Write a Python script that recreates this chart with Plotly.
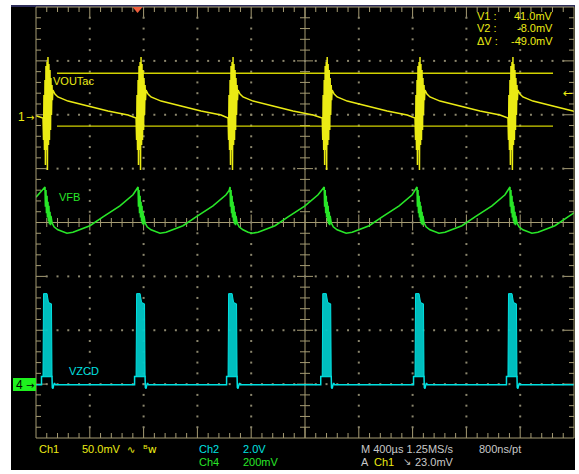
import plotly.graph_objects as go

# ---------------- data ----------------
TIME_PER_DIV_US = 400.0          # horizontal scale
CH1_MV_PER_DIV = 50.0            # VOUTac
CH2_V_PER_DIV = 2.0              # VZCD
CH4_MV_PER_DIV = 200.0           # VFB
CH1_GND_DIV = 1.95               # ground-marker positions (divisions from centre)
CH2_GND_DIV = -3.01
CH4_GND_DIV = -3.03

# switching events (centre of each VOUT ringing burst), µs from left edge
event_us = [89, 781, 1465, 2165, 2855, 3546]

# Ch1 VOUTac, one cycle relative to an event (µs, mV)
ch1_dt_us = [-37, -33, -30, -26, -22, -19, -15, -11, -7, -4, 0, 4, 7, 11, 15,
             19, 22, 26, 30, 33, 37, 52, 74, 149, 297, 446, 595, 640]
ch1_mv = [-0.6, -21.0, 20.8, -30.3, 34.7, -44.2, 47.7, -30.3, 51.4, -48.8, 56.0,
          -25.6, 49.6, -21.0, 44.0, -11.7, 36.6, 2.2, 30.1, 16.1, 25.4, 21.7,
          19.0, 15.2, 10.6, 5.9, 2.2, 0.0]
ch1_start_mv = 1.5

# Ch4 VFB, one cycle relative to an event (µs, mV)
ch4_dt_us = [-22, -19, -15, -11, -7, -4, 0, 4, 7, 11, 15, 19, 22, 30, 45, 74,
             112, 141, 186, 238, 312, 409, 535, 632, 655]
ch4_mv = [738, 665, 727, 640, 705, 625, 683, 610, 668, 600, 646, 596, 631, 605,
          590, 579, 570, 566, 570, 579, 594, 627, 668, 709, 725]
ch4_start_mv = 700

# Ch2 VZCD baseline and pulse band, relative to an event (µs, V)
ch2_line_dt_us = [-55, -48, -48, -37, 30, 32, 37, 41, 48, 55]
ch2_line_v = [0, 0, 0.30, 0.30, 0.30, -0.11, -0.15, -0.05, 0.06, 0]
ch2_band_dt_us = [-37, -37, -33, -7, 0, 4, 26, 30]
ch2_band_v = [0.30, 3.30, 3.38, 3.38, 3.20, 3.05, 3.00, 0.30]

# cursors / trigger
cursor_v1_mv = 41.0
cursor_v2_mv = -8.0
cursor_span_us = [156, 3844]
trigger_level_mv = 23.0
trigger_pos_us = 755
sample_rate = "1.25MS/s"
record_res = "800ns/pt"

# ---------------- geometry ----------------
W, H = 579, 474
L, R, T, B = 36, 5, 7, 36
PW, PH = W - L - R, H - T - B
XMAX = 10 * TIME_PER_DIV_US
US_PER_PX = XMAX / PW
DIV_PER_PX = 8.0 / PH


def px(x):
    return (x - L) / PW


def py(y):
    return (H - B - y) / PH


GRAT = "rgb(165,155,115)"
DOT = "rgb(140,135,110)"
YEL = "rgb(235,235,20)"
YEL_C = "rgb(210,210,0)"
GRN = "rgb(40,230,40)"
CYN = "rgb(0,225,225)"
CYN_F = "rgba(0,200,200,0.95)"
GRAY = "rgb(200,200,200)"

fig = go.Figure()

# ---------------- graticule ----------------
tx, ty = [], []
minor_x = 5 * US_PER_PX
major_x = 11 * US_PER_PX
minor_y = 5 * DIV_PER_PX
major_y = 11 * DIV_PER_PX
step_x = TIME_PER_DIV_US / 5
for i in range(1, 50):
    x = i * step_x
    lnx = major_y if i % 5 == 0 else minor_y
    tx += [x, x, None, x, x, None]
    ty += [4, 4 - lnx, None, -4, -4 + lnx, None]
    c = (8 if i % 5 == 0 else 4.5) * DIV_PER_PX
    tx += [x, x, None]
    ty += [-c, c, None]
for j in range(1, 40):
    y = -4 + j * 0.2
    ln = major_x if j % 5 == 0 else minor_x
    tx += [0, ln, None, XMAX, XMAX - ln, None]
    ty += [y, y, None, y, y, None]
    c = (8 if j % 5 == 0 else 5) * US_PER_PX
    tx += [XMAX / 2 - c, XMAX / 2 + c, None]
    ty += [y, y, None]
tx += [XMAX / 2, XMAX / 2, None, 0, XMAX, None]
ty += [-4, 4, None, 0, 0, None]
fig.add_trace(go.Scatter(x=tx, y=ty, mode="lines", line=dict(color=GRAT, width=1),
                         hoverinfo="skip", showlegend=False))

dx, dy = [], []
for k in range(1, 10):
    if k == 5:
        continue
    for j in range(1, 40):
        dx.append(k * TIME_PER_DIV_US)
        dy.append(-4 + j * 0.2)
for k in range(-3, 4):
    if k == 0:
        continue
    for i in range(1, 50):
        dx.append(i * step_x)
        dy.append(k)
fig.add_trace(go.Scatter(x=dx, y=dy, mode="markers",
                         marker=dict(color=DOT, size=2, symbol="square", line=dict(width=0)),
                         hoverinfo="skip", showlegend=False))

# ---------------- cursors ----------------
for v in (cursor_v1_mv, cursor_v2_mv):
    yv = v / CH1_MV_PER_DIV + CH1_GND_DIV
    fig.add_trace(go.Scatter(x=cursor_span_us, y=[yv, yv], mode="lines",
                             line=dict(color=YEL_C, width=1.3), hoverinfo="skip",
                             showlegend=False))

# ---------------- Ch2 VZCD ----------------
lx, ly = [0], [CH2_GND_DIV]
bx, by = [], []
for s in event_us:
    lx += [s + d for d in ch2_line_dt_us]
    ly += [v / CH2_V_PER_DIV + CH2_GND_DIV for v in ch2_line_v]
    bx += [s + d for d in ch2_band_dt_us] + [None]
    by += [v / CH2_V_PER_DIV + CH2_GND_DIV for v in ch2_band_v] + [None]
lx.append(XMAX)
ly.append(CH2_GND_DIV)
fig.add_trace(go.Scatter(x=lx, y=ly, mode="lines", line=dict(color=CYN, width=1.5),
                         hoverinfo="skip", showlegend=False))
fig.add_trace(go.Scatter(x=bx, y=by, mode="lines", fill="toself", fillcolor=CYN_F,
                         line=dict(color=CYN, width=1), hoverinfo="skip", showlegend=False))

# ---------------- Ch4 VFB ----------------
gx, gy = [0], [ch4_start_mv / CH4_MV_PER_DIV + CH4_GND_DIV]
for s in event_us:
    gx += [s + d for d in ch4_dt_us]
    gy += [v / CH4_MV_PER_DIV + CH4_GND_DIV for v in ch4_mv]
fig.add_trace(go.Scatter(x=gx, y=gy, mode="lines", line=dict(color=GRN, width=1.6),
                         hoverinfo="skip", showlegend=False))

# ---------------- Ch1 VOUTac ----------------
yx, yy = [0], [ch1_start_mv / CH1_MV_PER_DIV + CH1_GND_DIV]
for s in event_us:
    yx += [s + d for d in ch1_dt_us]
    yy += [v / CH1_MV_PER_DIV + CH1_GND_DIV for v in ch1_mv]
fig.add_trace(go.Scatter(x=yx, y=yy, mode="lines", line=dict(color=YEL, width=1.5),
                         hoverinfo="skip", showlegend=False))

# ---------------- shapes ----------------
shapes = [
    dict(type="rect", xref="paper", yref="paper", x0=px(11), x1=px(575), y0=py(5),
         y1=py(470), fillcolor="black", line=dict(width=0), layer="below"),
    dict(type="rect", xref="paper", yref="paper", x0=px(11), x1=px(575), y0=py(7),
         y1=py(5), fillcolor="rgb(45,45,90)", line=dict(width=0)),
    dict(type="rect", xref="paper", yref="paper", x0=0, x1=1, y0=0, y1=1,
         line=dict(color=GRAT, width=1)),
    dict(type="rect", xref="paper", yref="paper", x0=px(13), x1=px(36), y0=py(391),
         y1=py(378), fillcolor="rgb(30,240,30)", line=dict(width=0)),
]
tp = L + trigger_pos_us / US_PER_PX
shapes.append(dict(type="path", xref="paper", yref="paper",
                   path=f"M {px(tp-5)},{py(7)} L {px(tp+5)},{py(7)} L {px(tp)},{py(13)} Z",
                   fillcolor="rgb(240,95,60)", line=dict(width=0)))

# ---------------- texts ----------------
FONT = "Liberation Sans, Arial, sans-serif"
SYM = "DejaVu Sans"
ann = []


def txt(x, y, s, color, size=11, anchor="left", family=FONT):
    ann.append(dict(x=px(x), y=py(y), xref="paper", yref="paper", text=s,
                    showarrow=False, xanchor=anchor, yanchor="middle",
                    font=dict(family=family, size=size, color=color)))


txt(51, 81, "VOUTac", YEL, 11)
txt(57, 197, "VFB", GRN, 11)
txt(67, 371, "VZCD", CYN, 11)

ch1_gnd_px = H - B - (CH1_GND_DIV + 4) / DIV_PER_PX
txt(27, ch1_gnd_px, "1", YEL, 12, "right")
txt(36, ch1_gnd_px, "→", YEL, 10, "right", SYM)
txt(25, 385, "4", "black", 12, "right")
txt(36, 385, "→", "black", 10, "right", SYM)
trig_px = H - B - (trigger_level_mv / CH1_MV_PER_DIV + CH1_GND_DIV + 4) / DIV_PER_PX
txt(575, trig_px, "←", YEL, 12, "right", SYM)

rows = [("V1 :", cursor_v1_mv), ("V2 :", cursor_v2_mv),
        ("ΔV :", cursor_v2_mv - cursor_v1_mv)]
for i, (lab, v) in enumerate(rows):
    yy_ = 16 + i * 12.5
    txt(475, yy_, lab, YEL, 11)
    txt(555, yy_, f"{v:.1f}mV", YEL, 11, "right")

txt(37, 449, "Ch1", YEL, 11)
txt(80, 449, f"{CH1_MV_PER_DIV:.1f}mV", YEL, 11)
txt(125, 449, "∿", YEL, 10, "left", SYM)
txt(141, 449, "ᴮw", YEL, 11, "left", SYM)
txt(197, 449, "Ch2", CYN, 11)
txt(241, 449, f"{CH2_V_PER_DIV:.1f}V", CYN, 11)
txt(197, 462, "Ch4", GRN, 11)
txt(241, 462, f"{CH4_MV_PER_DIV:.0f}mV", GRN, 11)
txt(359, 449, f"M {TIME_PER_DIV_US:.0f}µs {sample_rate}", GRAY, 11)
txt(477, 449, record_res, GRAY, 11)
txt(359, 462, "A", GRAY, 11)
txt(372, 462, "Ch1", YEL, 11)
txt(401, 462, "↘", GRAY, 10, "left", SYM)
txt(413, 462, f"{trigger_level_mv:.1f}mV", GRAY, 11)

fig.update_layout(
    width=W, height=H,
    margin=dict(l=L, r=R, t=T, b=B, pad=0),
    paper_bgcolor="white", plot_bgcolor="black",
    xaxis=dict(range=[0, XMAX], visible=False, fixedrange=True),
    yaxis=dict(range=[-4, 4], visible=False, fixedrange=True),
    shapes=shapes, annotations=ann, showlegend=False,
)
fig.write_html("out.html")
